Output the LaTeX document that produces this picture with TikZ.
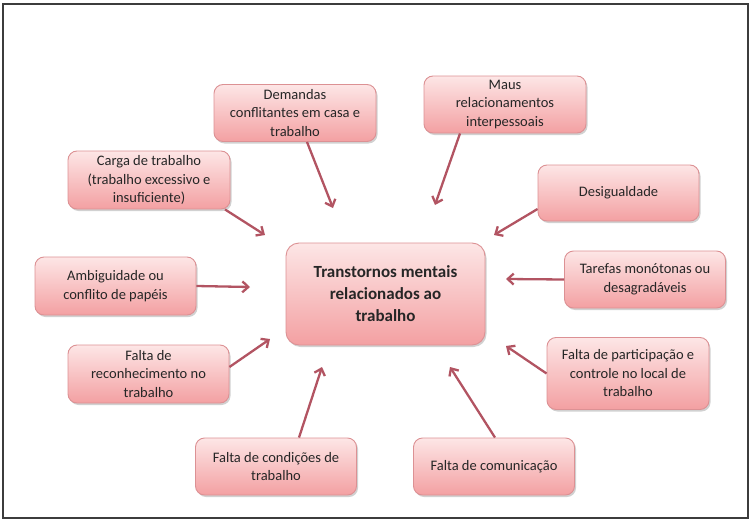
\documentclass[tikz,border=0pt]{standalone}
\usepackage{fontspec}
\setmainfont{Carlito}
\usetikzlibrary{arrows.meta,shadows,calc}
\definecolor{boxtop}{RGB}{253,230,230}
\definecolor{boxbot}{RGB}{243,160,162}
\definecolor{boxline}{RGB}{220,145,148}
\definecolor{arrcol}{RGB}{178,84,98}
\definecolor{txt}{RGB}{38,38,38}
\definecolor{framecol}{RGB}{60,60,60}
\tikzset{
  cause/.style={rectangle, rounded corners=9pt, draw=boxline, line width=0.9pt,
    top color=boxtop, bottom color=boxbot, text=txt, align=center,
    font=\fontsize{14.5}{18.5}\selectfont, inner sep=0pt,
    drop shadow={shadow xshift=1.5pt, shadow yshift=-2pt, fill=black, opacity=0.18}},
  core/.style={cause, rounded corners=13pt, font=\fontsize{17}{22}\selectfont\bfseries},
  arr/.style={draw=arrcol, line width=2.3pt, -{Straight Barb[length=6pt,width=11pt,line width=2.3pt]}}
}
\begin{document}
\begin{tikzpicture}[x=1pt,y=-1pt]
\useasboundingbox (0,0) rectangle (750,522);
\draw[framecol, line width=1.6pt] (3,4) rectangle (748,518);

\node[core, minimum width=199pt, minimum height=102pt] (c) at (385.5,294) {Transtornos mentais\\relacionados ao\\trabalho};

\node[cause, minimum width=162pt, minimum height=57pt] (dem) at (295,113) {Demandas\\conflitantes em casa e\\trabalho};
\node[cause, minimum width=162pt, minimum height=57pt] (maus) at (505,104.5) {Maus\\relacionamentos\\interpessoais};
\node[cause, minimum width=162pt, minimum height=58pt] (carga) at (149,180) {Carga de trabalho\\(trabalho excessivo e\\insuficiente)};
\node[cause, minimum width=161pt, minimum height=56pt] (desig) at (618.5,193) {Desigualdade};
\node[cause, minimum width=161pt, minimum height=58pt] (ambig) at (115.5,286) {Ambiguidade ou\\conflito de papéis};
\node[cause, minimum width=161pt, minimum height=57pt] (taref) at (645,279.5) {Tarefas monótonas ou\\desagradáveis};
\node[cause, minimum width=161pt, minimum height=58pt] (recon) at (148.5,374) {Falta de\\reconhecimento no\\trabalho};
\node[cause, minimum width=162pt, minimum height=72pt] (part) at (628,373.5) {Falta de participação e\\controle no local de\\trabalho};
\node[cause, minimum width=161pt, minimum height=57pt] (cond) at (276,466.5) {Falta de condições de\\trabalho};
\node[cause, minimum width=161pt, minimum height=57pt] (comm) at (494,466.5) {Falta de comunicação};

\coordinate (t1) at (333,208);
\coordinate (t2) at (435,205);
\coordinate (t3) at (265,235);
\coordinate (t4) at (494,235);
\coordinate (t5) at (250,287);
\coordinate (t6) at (506,279);
\coordinate (t7) at (270,339);
\coordinate (t8) at (506,346);
\coordinate (t9) at (322,367);
\coordinate (t10) at (450,367);

\draw[arr] (dem.south -| 307,0) -- (t1);
\draw[arr] (maus.south -| 460,0) -- (t2);
\draw[arr] (carga.south -| 225,0) -- (t3);
\draw[arr] (desig.west |- 0,209) -- (t4);
\draw[arr] (ambig.east) -- (t5);
\draw[arr] (taref.west) -- (t6);
\draw[arr] (recon.east |- 0,367) -- (t7);
\draw[arr] (part.west) -- (t8);
\draw[arr] (cond.north -| 299,0) -- (t9);
\draw[arr] (comm.north -| 495,0) -- (t10);
\end{tikzpicture}
\end{document}
